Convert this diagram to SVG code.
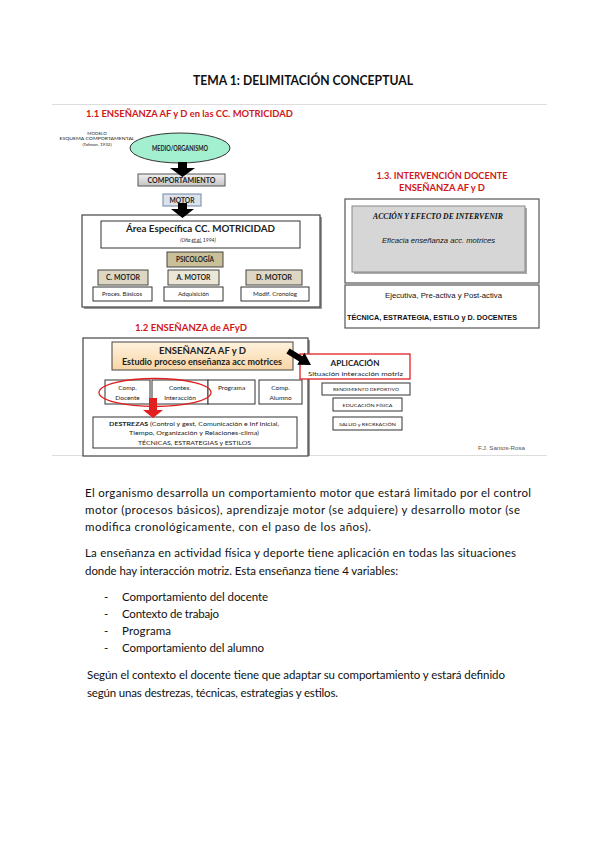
<svg xmlns="http://www.w3.org/2000/svg" width="599" height="848" viewBox="0 0 599 848">
<defs>
<style>
.s{font-family:"Liberation Sans",Arial,sans-serif}
.c{font-family:Lato,"Noto Sans",sans-serif}
.b{font-weight:bold}
.red{fill:#d01818}
.body{font-family:Lato,"Noto Sans",sans-serif;font-size:11.5px;fill:#111}
.box{fill:#fff;stroke:#333;stroke-width:1}
.lbl{font-family:Lato,"Noto Sans",sans-serif;font-weight:bold;fill:#222;text-anchor:middle}
.sm{font-family:Lato,"Noto Sans",sans-serif;fill:#222;text-anchor:middle}
.motor{fill:#ddd6c2;stroke:#444;stroke-width:1}
</style>
<linearGradient id="gGray" x1="0" y1="0" x2="0" y2="1"><stop offset="0" stop-color="#f0f0f0"/><stop offset="1" stop-color="#c4c4c4"/></linearGradient>
<linearGradient id="gOr" x1="0" y1="0" x2="0" y2="1"><stop offset="0" stop-color="#fff2de"/><stop offset="1" stop-color="#f8d6a6"/></linearGradient>
</defs>
<rect width="599" height="848" fill="#fff"/>

<g id="title">
<text x="303" y="85" text-anchor="middle" class="c b" font-size="12.5" fill="#111" textLength="220" lengthAdjust="spacingAndGlyphs">TEMA 1: DELIMITACIÓN CONCEPTUAL</text>
</g>
<line x1="52" y1="104.5" x2="547" y2="104.5" stroke="#ddd" stroke-width="1.2"/>
<line x1="52" y1="455.5" x2="547" y2="455.5" stroke="#ddd" stroke-width="1.2"/>

<!-- Section 1.1 -->
<g id="sec11">
<text x="86" y="116.5" class="c b red" font-size="9.5" textLength="207" lengthAdjust="spacingAndGlyphs">1.1 ENSEÑANZA AF y D en las CC. MOTRICIDAD</text>
<text x="97" y="134.5" class="sm" font-size="4.5">MODELO</text>
<text x="97" y="140" class="sm" font-size="4.5" textLength="75" lengthAdjust="spacingAndGlyphs">ESQUEMA COMPORTAMENTAL</text>
<text x="97" y="145.5" class="sm" font-size="4.5">(Tolman, 1932)</text>
</g>

<g id="medio">
<ellipse cx="180" cy="148" rx="50" ry="15" fill="#a2f0d0" stroke="#333" stroke-width="1"/>
<text x="180" y="150.5" class="lbl" font-size="7" textLength="56" lengthAdjust="spacingAndGlyphs">MEDIO/ORGANISMO</text>
</g>
<g id="comportamiento">
<rect x="138" y="174" width="87" height="12" fill="url(#gGray)" stroke="#555"/>
<text x="181.5" y="182.5" class="lbl" font-size="7" textLength="68" lengthAdjust="spacingAndGlyphs">COMPORTAMIENTO</text>
</g>
<g id="motor">
<rect x="163" y="194" width="38" height="12" fill="#dde2ea" stroke="#6f86aa"/>
<text x="182" y="202.5" class="lbl" font-size="6.5" textLength="25" lengthAdjust="spacingAndGlyphs">MOTOR</text>
</g>

<g id="area">
<rect x="84" y="217" width="238" height="92" fill="#9a9a9a"/>
<rect x="82" y="215" width="238" height="92" fill="#fff" stroke="#444" stroke-width="1.2"/>
<rect x="101" y="221" width="199" height="27" class="box"/>
<text x="200.5" y="232" class="lbl" font-size="9.5" textLength="149" lengthAdjust="spacingAndGlyphs">Área Específica  CC. MOTRICIDAD</text>
<text x="198" y="241.5" class="sm" font-size="5" font-style="italic">(Oña <tspan text-decoration="underline">et al.</tspan>  1994)</text>
</g>
<g id="psicologia">
<rect x="167" y="252" width="56" height="15" fill="#c9bf98" stroke="#444"/>
<text x="195" y="261.5" class="lbl" font-size="6.5" textLength="38" lengthAdjust="spacingAndGlyphs">PSICOLOGÍA</text>
</g>
<g id="cmotor">
<rect x="98" y="270" width="50" height="15" class="motor"/>
<text x="123" y="279.5" class="lbl" font-size="6.5" textLength="34" lengthAdjust="spacingAndGlyphs">C. MOTOR</text>
<rect x="93" y="287" width="59" height="14" class="box"/>
<text x="122" y="296" class="sm" font-size="5" textLength="40" lengthAdjust="spacingAndGlyphs">Proces. Básicos</text>
</g>
<g id="amotor">
<rect x="168" y="270" width="51" height="15" fill="#ece6d6" stroke="#444"/>
<text x="193.5" y="279.5" class="lbl" font-size="6.5" textLength="34" lengthAdjust="spacingAndGlyphs">A. MOTOR</text>
<rect x="164" y="287" width="59" height="14" class="box"/>
<text x="193.5" y="296" class="sm" font-size="5" textLength="31" lengthAdjust="spacingAndGlyphs">Adquisición</text>
</g>
<g id="dmotor">
<rect x="246" y="270" width="56" height="15" class="motor"/>
<text x="274" y="279.5" class="lbl" font-size="6.5" textLength="36" lengthAdjust="spacingAndGlyphs">D. MOTOR</text>
<rect x="241" y="287" width="68" height="14" class="box"/>
<text x="275" y="296" class="sm" font-size="5" textLength="44" lengthAdjust="spacingAndGlyphs">Modif. Cronolog</text>
</g>

<!-- Section 1.3 -->
<g id="sec13">
<text x="442" y="178.5" text-anchor="middle" class="c b red" font-size="9.5" textLength="131" lengthAdjust="spacingAndGlyphs">1.3. INTERVENCIÓN DOCENTE</text>
<text x="442" y="190.5" text-anchor="middle" class="c b red" font-size="9.5" textLength="86" lengthAdjust="spacingAndGlyphs">ENSEÑANZA  AF y D</text>
</g>
<g id="accion">
<rect x="345" y="199" width="194" height="84" fill="#fff" stroke="#555" stroke-width="1.2"/>
<rect x="354" y="208" width="173" height="66" fill="#aaa"/>
<rect x="352" y="206" width="173" height="66" fill="#d6d6d6" stroke="#888"/>
<text x="438" y="218.5" text-anchor="middle" font-family="'Liberation Serif',serif" font-weight="bold" font-style="italic" font-size="8" fill="#111" textLength="130" lengthAdjust="spacingAndGlyphs">ACCIÓN Y EFECTO DE INTERVENIR</text>
<text x="438.5" y="242.5" text-anchor="middle" class="s" font-style="italic" font-size="7.5" fill="#111" textLength="113" lengthAdjust="spacingAndGlyphs">Eficacia  enseñanza acc. motrices</text>
</g>
<g id="ejecutiva">
<rect x="345" y="285" width="194" height="43" fill="#fff" stroke="#555" stroke-width="1.2"/>
<text x="443.5" y="298" text-anchor="middle" class="s" font-size="8" fill="#111" textLength="117" lengthAdjust="spacingAndGlyphs">Ejecutiva, Pre-activa y Post-activa</text>
<text x="432" y="320" text-anchor="middle" class="s b" font-size="8" fill="#111" textLength="170" lengthAdjust="spacingAndGlyphs">TÉCNICA, ESTRATEGIA, ESTILO y D. DOCENTES</text>
</g>

<!-- Section 1.2 -->
<g id="sec12">
<text x="135" y="331" class="c b red" font-size="9.5" textLength="112" lengthAdjust="spacingAndGlyphs">1.2 ENSEÑANZA de AFyD</text>
<rect x="85" y="340" width="225" height="116" fill="#9a9a9a"/>
<rect x="83" y="338" width="225" height="118" fill="#fff" stroke="#444" stroke-width="1.2"/>
</g>
<g id="ensenanza">
<rect x="112" y="342" width="181" height="28" fill="url(#gOr)" stroke="#444"/>
<text x="202.5" y="353.5" class="lbl" font-size="9.5" textLength="87" lengthAdjust="spacingAndGlyphs">ENSEÑANZA  AF y D</text>
<text x="202" y="365" class="lbl" font-size="8.5" textLength="160" lengthAdjust="spacingAndGlyphs">Estudio proceso enseñanza  acc motrices</text>
</g>
<g id="compdocente">
<rect x="105" y="380" width="45" height="24" class="box"/>
<text x="127.5" y="390" class="sm" font-size="6.5">Comp.</text>
<text x="127.5" y="399.5" class="sm" font-size="6.5">Docente</text>
</g>
<g id="contex">
<rect x="152" y="380" width="56" height="24" class="box"/>
<text x="180" y="390" class="sm" font-size="6.5">Contex.</text>
<text x="180" y="399.5" class="sm" font-size="6.5">Interacción</text>
</g>
<g id="programa">
<rect x="208" y="380" width="47" height="24" class="box"/>
<text x="231.5" y="390" class="sm" font-size="6.5">Programa</text>
</g>
<g id="compalumno">
<rect x="259" y="380" width="43" height="24" class="box"/>
<text x="280.5" y="390" class="sm" font-size="6.5">Comp.</text>
<text x="280.5" y="399.5" class="sm" font-size="6.5">Alumno</text>
</g>
<g id="destrezas">
<rect x="93" y="417" width="204" height="31" class="box"/>
<text x="194" y="426" class="sm" font-size="6.3" textLength="170" lengthAdjust="spacingAndGlyphs"><tspan font-weight="bold">DESTREZAS</tspan> (Control y gest, Comunicación  e Inf Inicial,</text>
<text x="194" y="435" class="sm" font-size="6.3" textLength="130" lengthAdjust="spacingAndGlyphs">Tiempo,  Organización y Relaciones-clima)</text>
<text x="194.5" y="444.5" class="sm" font-size="6.3" textLength="113" lengthAdjust="spacingAndGlyphs">TÉCNICAS, ESTRATEGIAS y ESTILOS</text>
</g>
<g id="aplicacion">
<rect x="300" y="354" width="110" height="25" fill="#fff" stroke="#e02020" stroke-width="1.3"/>
<text x="355" y="366" class="lbl" font-size="8" textLength="49" lengthAdjust="spacingAndGlyphs">APLICACIÓN</text>
<text x="355.5" y="375.5" class="sm" font-size="6.5" textLength="95" lengthAdjust="spacingAndGlyphs">Situación  interacción motriz</text>
</g>
<g id="rendimiento">
<rect x="322" y="383" width="88" height="12" class="box"/>
<text x="366" y="391" class="sm" font-size="4.5" textLength="66" lengthAdjust="spacingAndGlyphs">RENDIMIENTO DEPORTIVO</text>
</g>
<g id="edfisica">
<rect x="333" y="398" width="69" height="13" class="box"/>
<text x="367.5" y="406.5" class="sm" font-size="4.5" textLength="50" lengthAdjust="spacingAndGlyphs">EDUCACIÓN FÍSICA</text>
</g>
<g id="salud">
<rect x="333" y="417" width="69" height="13" class="box"/>
<text x="367.5" y="425.5" class="sm" font-size="4.5" textLength="57" lengthAdjust="spacingAndGlyphs">SALUD y RECREACIÓN</text>
</g>
<text x="478" y="450" class="s" font-size="5.5" fill="#555" textLength="47" lengthAdjust="spacingAndGlyphs">F.J. Santos-Rosa</text>

<!-- connectors -->
<g id="connectors">
<polygon points="178,162 187,162 187,168 195,168 182.5,177 170,168 178,168" fill="#000"/>
<polygon points="178,203 187,203 187,209 194,209 182.5,218 171,209 178,209" fill="#000"/>
<polygon points="289.6,348.4 302.4,356.2 304.4,352.8 311,365 297.2,364.8 299.2,361.4 286.4,353.6" fill="#000"/>
<ellipse cx="155" cy="392.5" rx="56" ry="14" fill="none" stroke="#e02020" stroke-width="1.3"/>
<polygon points="149,398 157,398 157,410 163,410 153,418 143,410 149,410" fill="#e02020"/>
</g>

<!-- body text -->
<g id="bodytext">
<text x="85" y="497" class="body" textLength="446" lengthAdjust="spacing">El organismo desarrolla un comportamiento motor que estará limitado por el control</text>
<text x="85" y="514" class="body" textLength="435" lengthAdjust="spacing">motor (procesos básicos), aprendizaje motor (se adquiere) y desarrollo motor (se</text>
<text x="85" y="531" class="body" textLength="286" lengthAdjust="spacing">modifica cronológicamente, con el paso de los años).</text>
<text x="85" y="557" class="body" textLength="431" lengthAdjust="spacing">La enseñanza en actividad física y deporte tiene aplicación en todas las situaciones</text>
<text x="85" y="575" class="body" textLength="313" lengthAdjust="spacing">donde hay interacción motriz.  Esta enseñanza tiene 4 variables:</text>
<text x="104" y="601" class="body">-</text>
<text x="122" y="601" class="body" textLength="146" lengthAdjust="spacing">Comportamiento del docente</text>
<text x="104" y="618" class="body">-</text>
<text x="122" y="618" class="body" textLength="97" lengthAdjust="spacing">Contexto de trabajo</text>
<text x="104" y="635" class="body">-</text>
<text x="122" y="635" class="body" textLength="49" lengthAdjust="spacing">Programa</text>
<text x="104" y="652" class="body">-</text>
<text x="122" y="652" class="body" textLength="142" lengthAdjust="spacing">Comportamiento del alumno</text>
<text x="87" y="679" class="body" textLength="418" lengthAdjust="spacing">Según el contexto el docente tiene que adaptar su comportamiento y estará definido</text>
<text x="87" y="697" class="body" textLength="251" lengthAdjust="spacing">según unas destrezas, técnicas, estrategias y estilos.</text>
</g>
</svg>
